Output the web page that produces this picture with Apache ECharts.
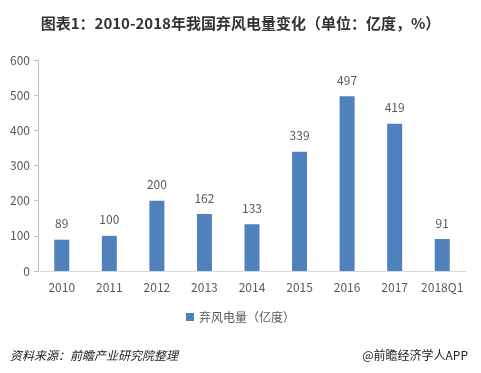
<!DOCTYPE html>
<html><head><meta charset="utf-8">
<script src="https://cdn.jsdelivr.net/npm/echarts@6/dist/echarts.min.js"></script>
<style>html,body{margin:0;padding:0;background:#fff}#c{width:481px;height:373px}</style>
</head><body><div id="c"></div>
<script>
var categories = ['2010','2011','2012','2013','2014','2015','2016','2017','2018Q1'];
var values = [89,100,200,162,133,339,497,419,91];
var seriesName = '弃风电量（亿度）';
var yTicks = [0,100,200,300,400,500,600];
var chart = echarts.init(document.getElementById('c'));
var font = '"Microsoft YaHei","Noto Sans CJK SC",sans-serif';
chart.setOption({
  animation:false,
  textStyle:{fontFamily:font},
  title:[{text:'图表1：2010-2018年我国弃风电量变化（单位：亿度，%）',left:'center',top:11,
    textStyle:{fontSize:15,fontWeight:'bold',color:'#333',fontFamily:font}},
    {text:'资料来源：前瞻产业研究院整理',left:5,top:344,textStyle:{fontSize:12,fontStyle:'italic',fontWeight:'normal',color:'#222',fontFamily:font}},
    {text:'@前瞻经济学人APP',right:8,top:344,textStyle:{fontSize:12,fontWeight:'normal',color:'#222',fontFamily:font}}],
  legend:{data:[seriesName],top:306,left:'center',itemWidth:8,itemHeight:8,icon:'rect',itemGap:4,
    textStyle:{fontSize:12,color:'#595959'}},
  grid:{left:38,right:15,top:60,bottom:102,containLabel:false},
  xAxis:{type:'category',data:categories,
    axisLine:{lineStyle:{color:'#d9d9d9'}},axisTick:{show:false},
    axisLabel:{color:'#595959',fontSize:12,margin:10,interval:0}},
  yAxis:{type:'value',min:yTicks[0],max:yTicks[yTicks.length-1],interval:100,
    axisLine:{show:true,lineStyle:{color:'#bfbfbf'}},axisTick:{show:true,length:4,lineStyle:{color:'#bfbfbf'}},
    splitLine:{show:false},axisLabel:{color:'#595959',fontSize:12,margin:8}},
  series:[{name:seriesName,type:'bar',data:values,barWidth:15,
    itemStyle:{color:'#4f81bd'},
    label:{show:true,position:'top',distance:10,color:'#595959',fontSize:12}}]
});
</script></body></html>
